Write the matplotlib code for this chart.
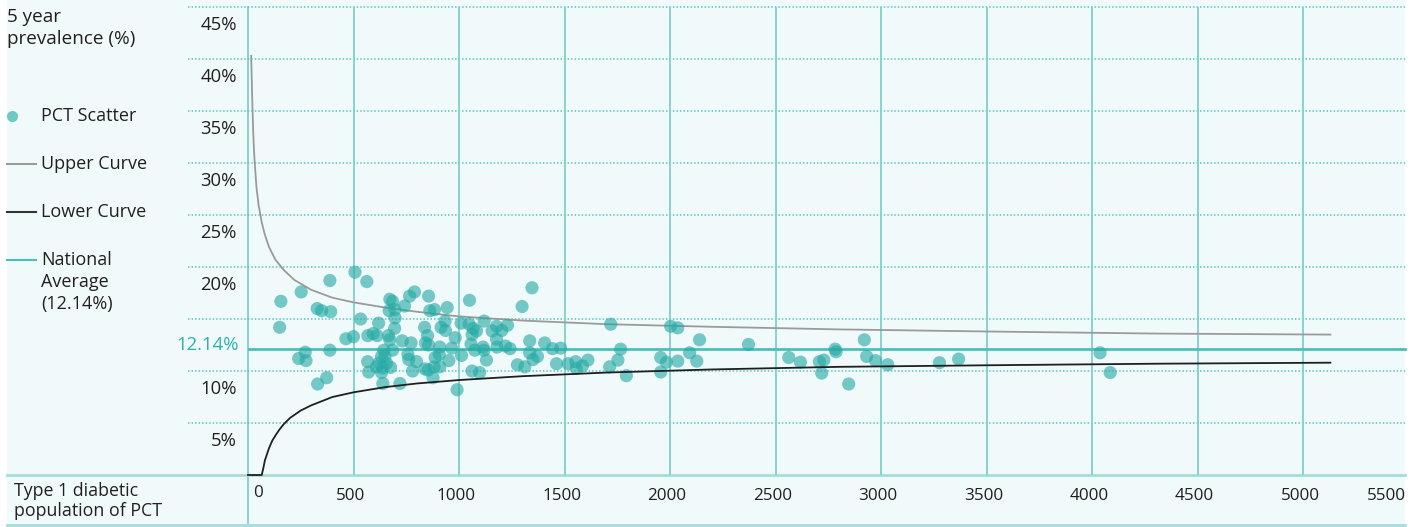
import numpy as np
import matplotlib
matplotlib.use("Agg")
import matplotlib.pyplot as plt
from matplotlib.lines import Line2D
from matplotlib.patches import Rectangle
from matplotlib.transforms import ScaledTranslation

plt.rcParams['font.family'] = ['Open Sans', 'DejaVu Sans']

# PCT scatter: type 1 diabetic population vs 5 year prevalence (%)
pct_population = [156, 150, 252, 388, 507, 563, 328, 349, 392, 534, 619, 464, 500, 568, 593,
                  612, 271, 240, 275, 388, 330, 373, 567, 572,
                  672, 685, 669, 696, 742, 697, 695, 666, 672, 731,
                  644, 633, 649, 685, 620, 657, 609, 638, 676, 633, 639, 720,
                  766, 789, 773, 758, 762, 799, 780,
                  837, 851, 841, 856, 856, 862, 884, 944, 934, 915, 936, 982,
                  909, 906, 887, 882, 909, 838, 854, 877, 966, 952, 1012, 991,
                  1050, 1010, 1048, 1067, 1083, 1119, 1057, 1062, 1075, 1114, 1118, 1130, 1062, 1098,
                  1157, 1178, 1203, 1230, 1178, 1180, 1220, 1242,
                  1335, 1335, 1351, 1372, 1406, 1277, 1312, 1299, 1346,
                  1443, 1482, 1462, 1517,
                  1553, 1556, 1585, 1611, 1719, 1714, 1753, 1766, 1793, 1956, 1983, 1956,
                  2003, 2037, 2037, 2093, 2127, 2140, 2372, 2563, 2618, 2708, 2729, 2719,
                  2783, 2787, 2847, 2921, 2932, 2974, 3032, 3277, 3368, 4038, 4086]
pct_prevalence = [16.7, 14.2, 17.6, 18.7, 19.5, 18.6, 16.0, 15.8, 15.7, 15.0, 14.6, 13.1, 13.3, 13.4, 13.6,
                  13.4, 11.8, 11.2, 11.0, 12.0, 8.75, 9.35, 10.9, 9.9,
                  16.9, 16.7, 15.8, 15.9, 16.25, 15.1, 14.1, 13.4, 13.0, 12.9,
                  12.0, 11.4, 11.4, 12.0, 10.75, 10.75, 10.4, 10.3, 10.35, 9.85, 8.8, 8.8,
                  17.2, 17.6, 12.7, 11.6, 11.1, 10.9, 10.0,
                  14.2, 13.4, 12.7, 12.5, 17.2, 15.8, 15.9, 16.1, 14.8, 14.2, 13.9, 13.2,
                  12.3, 11.6, 11.3, 10.4, 10.4, 10.2, 10.1, 9.35, 12.2, 11.0, 11.5, 8.2,
                  16.8, 14.6, 14.5, 14.1, 13.85, 14.8, 12.6, 13.5, 12.0, 12.3, 12.0, 11.05, 10.0, 9.85,
                  13.85, 14.3, 13.9, 14.4, 13.05, 12.3, 12.4, 12.15,
                  12.9, 11.75, 11.1, 11.4, 12.7, 10.6, 10.4, 16.2, 18.0,
                  12.15, 12.2, 10.7, 10.7,
                  10.9, 10.25, 10.5, 11.05, 14.5, 10.4, 11.05, 12.1, 9.55, 11.3, 10.85, 9.9,
                  14.3, 14.15, 10.95, 11.75, 10.95, 13.0, 12.55, 11.3, 10.85, 10.9, 11.05, 9.8,
                  12.1, 11.85, 8.75, 13.0, 11.4, 11.0, 10.6, 10.8, 11.15, 11.75, 9.85]

upper_n = [15, 20, 25, 30, 40, 50, 65, 80, 100, 130, 170, 220, 300, 400, 500, 650, 800, 1000,
           1300, 1700, 2200, 2800, 3500, 4300, 5130]
upper_curve = [40.3, 36.2, 32.8, 30.6, 27.7, 26.0, 24.3, 23.1, 21.9, 20.7, 19.7, 18.75, 17.8,
               17.05, 16.6, 16.1, 15.7, 15.25, 14.85, 14.5, 14.25, 14.0, 13.8, 13.6, 13.5]
lower_n = [0, 65, 72, 80, 90, 100, 115, 130, 150, 170, 200, 250, 300, 400, 500, 650, 800, 1000,
           1300, 1700, 2200, 2800, 3500, 4300, 5130]
lower_curve = [0, 0, 0.6, 1.4, 2.0, 2.6, 3.3, 3.8, 4.4, 4.9, 5.5, 6.2, 6.7, 7.5, 7.95, 8.45, 8.8,
               9.13, 9.5, 9.85, 10.15, 10.4, 10.55, 10.7, 10.8]
national_avg = 12.14

grid_y = [5, 10, 15, 20, 25, 30, 35, 40, 45]
y_ticks = [5, 10, 20, 25, 30, 35, 40, 45]   # 15% label is left out, 12.14% takes its place
x_ticks = [0, 500, 1000, 1500, 2000, 2500, 3000, 3500, 4000, 4500, 5000, 5500]

W, H = 1421, 527
teal = '#4dbfbb'
grid_teal = '#7fd0cc'
text_col = '#231f20'

def fx(px):
    return px / W

def fy(py):
    return 1 - py / H

fig = plt.figure(figsize=(W / 100, H / 100), dpi=100)
fig.patch.set_facecolor('white')
fig.add_artist(Rectangle((fx(7), 0), fx(1405) - fx(7), 1, transform=fig.transFigure,
                         facecolor='#f1fafa', edgecolor='none', zorder=-10))

ax = fig.add_axes([fx(248), fy(475), fx(1408.5) - fx(248), 475 / H])
ax.set_facecolor('none')
ax.set_zorder(1)
ax.set_xlim(0, 5500)
ax.set_ylim(0, 475 / 10.4)
for s in ax.spines.values():
    s.set_visible(False)

# dotted horizontal grid, running into the label column
for v in grid_y:
    ax.plot([-60 / 1160.5, (1405 - 248) / 1160.5], [v, v], transform=ax.get_yaxis_transform(),
            clip_on=False, color='#5cc5c1', lw=1.1, ls=(0, (1, 1.3)), zorder=1)
ax.vlines(x_ticks[1:-1], 0, 45, color=grid_teal, lw=1.3, zorder=1)

# frame lines (drawn under the axes so the lower curve's flat start shows)
fig.add_artist(Line2D([fx(248), fx(248)], [fy(7), fy(525)], color=grid_teal, lw=1.3, zorder=0))
fig.add_artist(Line2D([fx(7), fx(1405)], [fy(474.5), fy(474.5)], color='#a5dcd9', lw=2, zorder=0))
fig.add_artist(Line2D([fx(7), fx(1405)], [fy(525), fy(525)], color='#a5dcd9', lw=2, zorder=0))

ax.plot([0, (1405 - 248) / 1160.5 * 5500], [national_avg, national_avg], color=teal, lw=2, zorder=2)
ax.plot(upper_n, upper_curve, color='#9a9a9a', lw=1.3, zorder=3)
ax.plot(lower_n, lower_curve, color='#1f1f1f', lw=1.3, zorder=5, clip_on=False)
ax.scatter(pct_population, pct_prevalence, s=90, color='#26aaa5', alpha=0.62,
           edgecolors='none', zorder=4)

# y labels sit just under their grid line
ax.set_yticks(y_ticks)
ax.set_yticklabels([f'{v}%' for v in y_ticks], fontsize=13.3, color=text_col)
ax.tick_params(axis='y', length=0, pad=8)
for lab in ax.get_yticklabels():
    lab.set_transform(lab.get_transform() + ScaledTranslation(0, -0.165, fig.dpi_scale_trans))
ax.text(-0.0078, national_avg, f'{national_avg:.2f}%', transform=ax.get_yaxis_transform()
        + ScaledTranslation(0, 0.04, fig.dpi_scale_trans),
        ha='right', va='center', fontsize=13.3, color='#2fb0ab')

ax.set_xticks(x_ticks)
ax.set_xticklabels([str(v) for v in x_ticks], fontsize=12.3, color=text_col)
ax.tick_params(axis='x', length=0, pad=9)
xlabs = ax.get_xticklabels()
for lab in xlabs:
    lab.set_transform(lab.get_transform() + ScaledTranslation(-0.03, 0, fig.dpi_scale_trans))
xlabs[0].set_ha('left')
xlabs[0].set_transform(ax.get_xaxis_transform() + ScaledTranslation(0.05, -0.1, fig.dpi_scale_trans))
xlabs[-1].set_ha('right')

# titles and legend column
fig.text(fx(7), fy(28), '5 year\nprevalence (%)', ha='left', va='center', fontsize=13.6,
         color=text_col, linespacing=1.22)
fig.text(fx(14), fy(501), 'Type 1 diabetic\npopulation of PCT', ha='left', va='center',
         fontsize=12.8, color=text_col, linespacing=1.12)

fig.add_artist(Line2D([fx(12)], [fy(116)], marker='o', markersize=8, color='#6cc9c5',
                      markeredgewidth=0, linestyle='none'))
fig.text(fx(41), fy(116), 'PCT Scatter', ha='left', va='center', fontsize=13, color=text_col)
legend_lines = [(164, '#9a9a9a', 'Upper Curve'), (212, '#333333', 'Lower Curve'),
                (260, teal, 'National')]
for py, col, lab in legend_lines:
    fig.add_artist(Line2D([fx(7), fx(36)], [fy(py), fy(py)], color=col, lw=1.5))
    fig.text(fx(41), fy(py), lab, ha='left', va='center', fontsize=13, color=text_col)
fig.text(fx(41), fy(282), 'Average', ha='left', va='center', fontsize=13, color=text_col)
fig.text(fx(41), fy(304), '(12.14%)', ha='left', va='center', fontsize=13, color=text_col)

fig.savefig('out.png', dpi=100)
